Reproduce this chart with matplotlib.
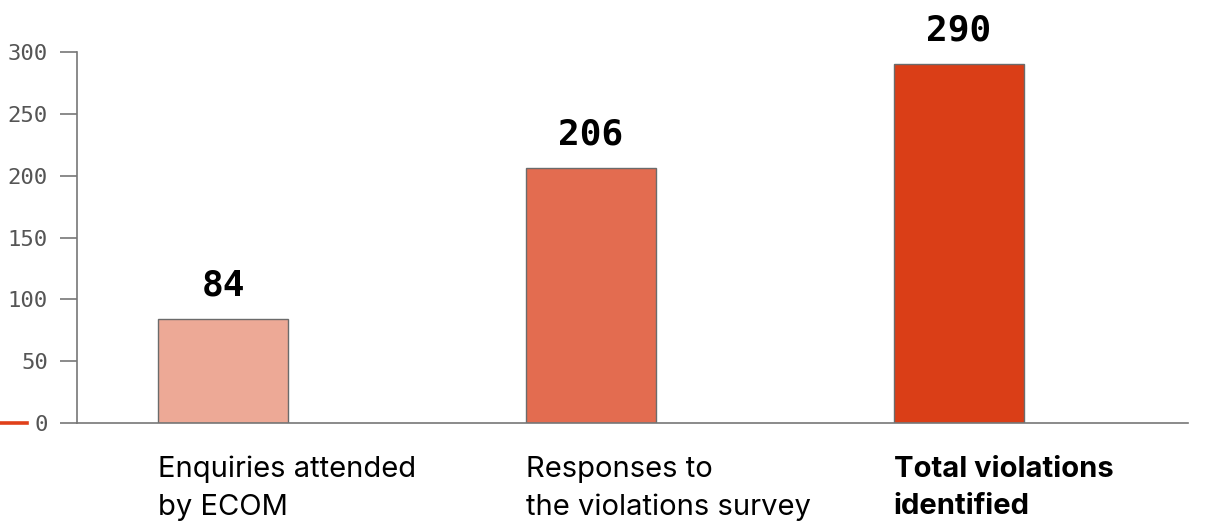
import matplotlib.pyplot as plt
import matplotlib.transforms as mtransforms
from matplotlib.lines import Line2D

categories = ["Enquiries attended\nby ECOM",
              "Responses to\nthe violations survey",
              "Total violations\nidentified"]
values = [84, 206, 290]
colors = ["#EDA996", "#E36C50", "#DA3E17"]
bold_label = [False, False, True]
yticks = [0, 50, 100, 150, 200, 250, 300]

fig = plt.figure(figsize=(12.14, 5.21), dpi=100)
ax = fig.add_axes([0.0634, 0.188, 0.9152, 0.712])

x = list(range(len(values)))
width = 0.354
bars = ax.bar(x, values, width=width, color=colors, edgecolor="#6b6b6b", linewidth=1, zorder=2)

for xi, v in zip(x, values):
    ax.annotate(str(v), (xi, v), xytext=(0, 12), textcoords="offset points",
                ha="center", va="bottom", fontsize=26, fontweight="bold",
                family="DejaVu Sans Mono", color="black", annotation_clip=False)

trans = mtransforms.blended_transform_factory(ax.transData, ax.transAxes)
for xi, lab, b in zip(x, categories, bold_label):
    ax.text(xi - width / 2, -0.088, lab, transform=trans, ha="left", va="top",
            fontsize=21, fontweight="bold" if b else "normal",
            family="Inter", color="black", linespacing=1.5)

ax.set_xlim(-0.398, 2.624)
ax.set_ylim(0, 300)
ax.set_xticks([])
ax.set_yticks(yticks)
ax.set_yticklabels([str(t) for t in yticks], family="DejaVu Sans Mono", fontsize=16, color="#555555")
ax.tick_params(axis="y", length=12, width=1.2, color="#777777", pad=9)

for s in ["top", "right"]:
    ax.spines[s].set_visible(False)
for s in ["left", "bottom"]:
    ax.spines[s].set_color("#777777")
    ax.spines[s].set_linewidth(1.2)

# small red accent at the bottom-left corner
fig.add_artist(Line2D([0, 27 / 1214], [0.188, 0.188], color="#E0401A", lw=2.6,
                      transform=fig.transFigure))

fig.savefig("out.png", dpi=100)
